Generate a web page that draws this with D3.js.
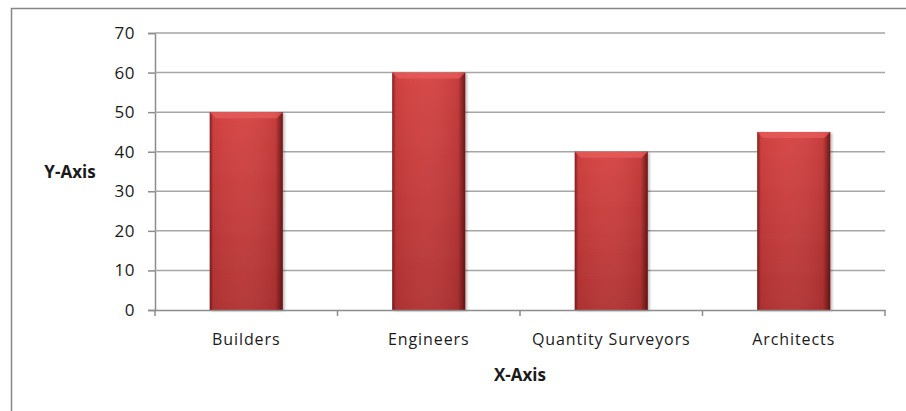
<!DOCTYPE html>
<html>
<head>
<meta charset="utf-8">
<script src="https://cdn.jsdelivr.net/npm/d3@7"></script>
<style>
  html, body { margin: 0; padding: 0; background: #fff; }
  svg { display: block; }
  text { font-family: "Open Sans", "DejaVu Sans", sans-serif; fill: #1a1a1a; }
</style>
</head>
<body>
<svg id="chart"></svg>
<script>
const width = 906;
const height = 411;

// chart data
const categories = ["Builders", "Engineers", "Quantity Surveyors", "Architects"];
const values = [50, 60, 40, 45];
const yTicks = [0, 10, 20, 30, 40, 50, 60, 70];

const margin = { left: 155, right: 21, top: 33, bottom: 101 };

const svg = d3.select("#chart")
    .attr("width", width)
    .attr("height", height);

// chart border (only top/left visible, rest runs off the picture)
svg.append("rect")
    .attr("x", 11.5).attr("y", 8.5)
    .attr("width", width + 20).attr("height", height + 20)
    .attr("fill", "none")
    .attr("stroke", "#868686")
    .attr("stroke-width", 1.5);

const x = d3.scaleBand()
    .domain(categories)
    .range([margin.left, width - margin.right])
    .paddingInner(0.6)
    .paddingOuter(0.3);

const y = d3.scaleLinear()
    .domain([0, 70])
    .range([height - margin.bottom, margin.top]);

// gradients
const defs = svg.append("defs");
const vert = defs.append("linearGradient")
    .attr("id", "barV").attr("x1", 0).attr("y1", 0).attr("x2", 0).attr("y2", 1);
vert.append("stop").attr("offset", "0%").attr("stop-color", "#d64444");
vert.append("stop").attr("offset", "100%").attr("stop-color", "#b23333");

const horiz = defs.append("linearGradient")
    .attr("id", "barH").attr("x1", 0).attr("y1", 0).attr("x2", 1).attr("y2", 0);
horiz.append("stop").attr("offset", "0%").attr("stop-color", "#4a0808").attr("stop-opacity", 0.6);
horiz.append("stop").attr("offset", "5%").attr("stop-color", "#4a0808").attr("stop-opacity", 0.05);
horiz.append("stop").attr("offset", "40%").attr("stop-color", "#ffffff").attr("stop-opacity", 0.03);
horiz.append("stop").attr("offset", "90%").attr("stop-color", "#3a0606").attr("stop-opacity", 0.1);
horiz.append("stop").attr("offset", "100%").attr("stop-color", "#3a0606").attr("stop-opacity", 0.7);

const shadow = defs.append("filter").attr("id", "shadow")
    .attr("x", "-20%").attr("y", "-5%").attr("width", "140%").attr("height", "110%");
shadow.append("feGaussianBlur").attr("in", "SourceAlpha").attr("stdDeviation", 1.2);
shadow.append("feOffset").attr("dx", 1.5).attr("dy", 1).attr("result", "b");
shadow.append("feComponentTransfer").append("feFuncA").attr("type", "linear").attr("slope", 0.25);
const merge = shadow.append("feMerge");
merge.append("feMergeNode");
merge.append("feMergeNode").attr("in", "SourceGraphic");

// y axis with gridlines
const yAxis = svg.append("g")
    .attr("transform", `translate(${margin.left},0)`)
    .call(d3.axisLeft(y).tickValues(yTicks).tickSize(7).tickPadding(13));
yAxis.select(".domain").attr("stroke", "#8c8c8c").attr("stroke-width", 1.5);
yAxis.selectAll(".tick line").attr("stroke", "#8c8c8c").attr("stroke-width", 1.5);
yAxis.selectAll(".tick text")
    .attr("font-size", 17)
    .attr("fill", "#222")
    .attr("letter-spacing", 0.5)
    .style("font-family", "'Open Sans', 'DejaVu Sans', sans-serif");

svg.append("g")
    .selectAll("line")
    .data(yTicks.filter(d => d > 0))
    .join("line")
    .attr("x1", margin.left)
    .attr("x2", width - margin.right)
    .attr("y1", d => y(d))
    .attr("y2", d => y(d))
    .attr("stroke", "#a6a6a6")
    .attr("stroke-width", 1.5);

// bars
const bars = svg.append("g")
    .selectAll("g")
    .data(categories.map((c, i) => ({ cat: c, val: values[i] })))
    .join("g");

bars.append("rect")
    .attr("x", d => x(d.cat))
    .attr("y", d => y(d.val))
    .attr("width", x.bandwidth())
    .attr("height", d => y(0) - y(d.val))
    .attr("fill", "url(#barV)")
    .attr("filter", "url(#shadow)");

bars.append("rect")
    .attr("x", d => x(d.cat))
    .attr("y", d => y(d.val))
    .attr("width", x.bandwidth())
    .attr("height", d => y(0) - y(d.val))
    .attr("fill", "url(#barH)");

// top bevel
const bev = 6;
bars.append("path")
    .attr("d", d => {
        const x0 = x(d.cat), x1 = x0 + x.bandwidth(), t = y(d.val);
        return `M${x0},${t}L${x1},${t}L${x1 - bev},${t + bev}L${x0 + bev},${t + bev}Z`;
    })
    .attr("fill", "#e85c5c")
    .attr("opacity", 0.75);

// x axis
const xAxis = svg.append("g")
    .attr("transform", `translate(0,${y(0)})`)
    .call(d3.axisBottom(x).tickSize(0).tickPadding(24));
xAxis.select(".domain").attr("stroke", "#8c8c8c").attr("stroke-width", 1.5);
xAxis.selectAll(".tick text")
    .attr("font-size", 16)
    .attr("fill", "#222")
    .attr("letter-spacing", 0.9)
    .style("font-family", "'Open Sans', 'DejaVu Sans', sans-serif");

const step = (width - margin.right - margin.left) / categories.length;
svg.append("g")
    .selectAll("line")
    .data(d3.range(categories.length + 1))
    .join("line")
    .attr("x1", i => margin.left + i * step)
    .attr("x2", i => margin.left + i * step)
    .attr("y1", y(0))
    .attr("y2", y(0) + 6)
    .attr("stroke", "#8c8c8c")
    .attr("stroke-width", 1.5);

// axis titles
svg.append("text")
    .attr("x", 70)
    .attr("y", y(35) + 6)
    .attr("text-anchor", "middle")
    .attr("font-size", 17)
    .attr("font-weight", "bold")
    .text("Y-Axis");

svg.append("text")
    .attr("x", (margin.left + width - margin.right) / 2)
    .attr("y", 381)
    .attr("text-anchor", "middle")
    .attr("font-size", 17)
    .attr("font-weight", "bold")
    .text("X-Axis");
</script>
</body>
</html>
